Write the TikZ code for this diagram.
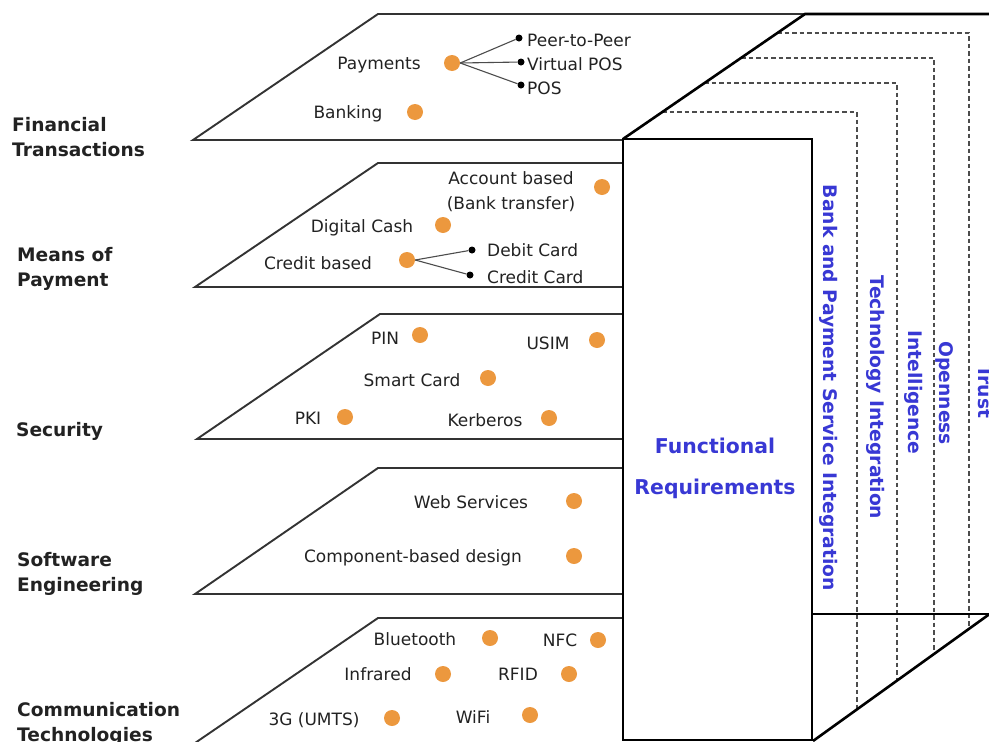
\documentclass[tikz,border=0pt]{standalone}
\usepackage{fontspec}
\setmainfont{DejaVu Sans}
\definecolor{dotorange}{RGB}{236,152,62}
\definecolor{reqblue}{RGB}{56,56,212}
\definecolor{ink}{RGB}{34,34,34}
\begin{document}
\begin{tikzpicture}[x=1pt,y=-1pt,
  layer/.style={draw=black!80, line width=1.9pt, line join=miter},
  frame/.style={draw=black, line width=2.6pt},
  guide/.style={draw=black!70, line width=1.7pt, dash pattern=on 4.5pt off 3pt},
  item/.style={font=\fontsize{17}{25}\selectfont, text=ink, inner sep=0pt, text height=12.4pt, text depth=0pt},
  sub/.style={item, anchor=west},
  dot/.style={circle, fill=dotorange, inner sep=0pt, minimum size=16pt},
  bullet/.style={circle, fill=black, inner sep=0pt, minimum size=7pt},
  branch/.style={draw=black!70, line width=1.1pt},
  layername/.style={font=\bfseries\fontsize{18.6}{25}\selectfont, text=ink, align=left, inner sep=0pt},
  req/.style={font=\bfseries\fontsize{18.7}{22}\selectfont, text=reqblue, rotate=-90, inner sep=0pt, text height=13.6pt, text depth=0pt},
]
\useasboundingbox (0,0) rectangle (989,742);

% ---- layer planes ----
\draw[layer] (805,14) -- (378,14) -- (193,140) -- (623,140);
\draw[layer] (623,163) -- (378,163) -- (195,287) -- (623,287);
\draw[layer] (623,314) -- (380,314) -- (197,439) -- (623,439);
\draw[layer] (623,468) -- (378,468) -- (195,594) -- (623,594);
\draw[layer] (623,618) -- (378,618) -- (195,743) -- (623,743);

% ---- dashed requirement shells ----
\draw[guide] (777,33) -- (969,33) -- (969,629);
\draw[guide] (741,58) -- (934,58) -- (934,655);
\draw[guide] (704,83) -- (897,83) -- (897,680);
\draw[guide] (662,112) -- (857,112) -- (857,709);

% ---- cube frame ----
\draw[frame] (623,139) rectangle (812,740);
\draw[frame] (623,139) -- (805,14) -- (995,14);
\draw[frame] (812,614) -- (995,614);
\draw[frame] (813,741) -- (991,613);

% ---- layer names ----
\node[layername, anchor=north west] (lfin) at (12,117.5) {Financial\\Transactions};
\node[layername, anchor=north west] (lmeans) at (17,247.5) {Means of\\Payment};
\node[layername, anchor=base west] (lsec) at (16,436.7) {Security};
\node[layername, anchor=north west] (lsoft) at (17,552.5) {Software\\Engineering};
\node[layername, anchor=north west] (lcomm) at (17,702.5) {Communication\\Technologies};

% ---- Financial Transactions ----
\node[item] (tpay) at (379,63) {Payments};
\node[dot] (pay) at (452,63) {};
\node[bullet] (bp2p) at (519,38) {};
\node[bullet] (bvpos) at (521,62) {};
\node[bullet] (bpos) at (521,85) {};
\node[sub] (tp2p) at (527,40) {Peer-to-Peer};
\node[sub] (tvpos) at (527,64) {Virtual POS};
\node[sub] (tpos) at (527,88) {POS};
\draw[branch] (pay.east) -- (bp2p);
\draw[branch] (pay.east) -- (bvpos);
\draw[branch] (pay.east) -- (bpos);
\node[item] (tbank) at (348,112) {Banking};
\node[dot] (bank) at (415,112) {};

% ---- Means of Payment ----
\node[item, anchor=north, align=center, text height=] (tacct) at (511,171.5) {Account based\\(Bank transfer)};
\node[dot] (acct) at (602,187) {};
\node[item] (tcash) at (362,226) {Digital Cash};
\node[dot] (cash) at (443,225) {};
\node[item] (tcred) at (318,263) {Credit based};
\node[dot] (cred) at (407,260) {};
\node[bullet] (bdebit) at (472,250) {};
\node[bullet] (bccard) at (470,275) {};
\node[sub] (tdebit) at (487,250) {Debit Card};
\node[sub] (tccard) at (487,277) {Credit Card};
\draw[branch] (cred.east) -- (bdebit);
\draw[branch] (cred.east) -- (bccard);

% ---- Security ----
\node[item] (tpin) at (385,338) {PIN};
\node[dot] (pin) at (420,335) {};
\node[item] (tusim) at (548,343) {USIM};
\node[dot] (usim) at (597,340) {};
\node[item] (tsmart) at (412,380) {Smart Card};
\node[dot] (smart) at (488,378) {};
\node[item] (tpki) at (308,418) {PKI};
\node[dot] (pki) at (345,417) {};
\node[item] (tkerb) at (485,420) {Kerberos};
\node[dot] (kerb) at (549,418) {};

% ---- Software Engineering ----
\node[item] (tweb) at (471,502) {Web Services};
\node[dot] (web) at (574,501) {};
\node[item] (tcomp) at (413,556) {Component-based design};
\node[dot] (comp) at (574,556) {};

% ---- Communication Technologies ----
\node[item] (tblue) at (415,639) {Bluetooth};
\node[dot] (blue) at (490,638) {};
\node[item] (tnfc) at (560,640) {NFC};
\node[dot] (nfc) at (598,640) {};
\node[item] (tir) at (378,674) {Infrared};
\node[dot] (ir) at (443,674) {};
\node[item] (trfid) at (518,674) {RFID};
\node[dot] (rfid) at (569,674) {};
\node[item] (tumts) at (314,719) {3G (UMTS)};
\node[dot] (umts) at (392,718) {};
\node[item] (twifi) at (473,717) {WiFi};
\node[dot] (wifi) at (530,715) {};

% ---- requirements ----
\node[font=\bfseries\fontsize{20.4}{41.3}\selectfont, text=reqblue, align=center, anchor=north, inner sep=0pt]
  (func) at (715,437.5) {Functional\\Requirements};
\node[req] (rbank) at (830,388) {Bank and Payment Service Integration};
\node[req] (rtech) at (877.5,397.5) {Technology Integration};
\node[req] (rint) at (915,392.5) {Intelligence};
\node[req] (ropen) at (946.7,393.3) {Openness};
\node[req] (rtrust) at (985,391.7) {Trust};
\end{tikzpicture}
\end{document}
